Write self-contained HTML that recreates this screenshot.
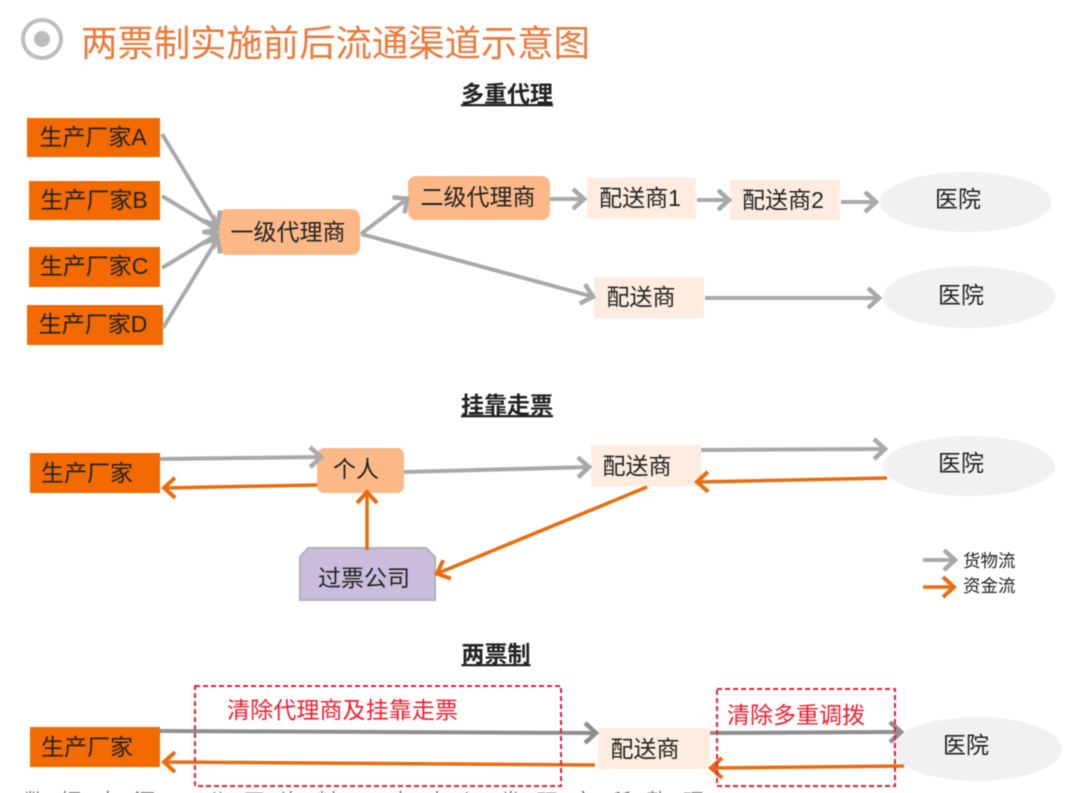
<!DOCTYPE html>
<html><head><meta charset="utf-8"><style>
html,body{margin:0;padding:0;background:#fff}
svg{display:block;filter:blur(0.45px)}
text{font-family:"Liberation Sans","Noto Sans CJK SC",sans-serif;fill:#222}
.g{stroke:#a9a9ab;stroke-width:4;fill:none}
.o{stroke:#ea6c10;stroke-width:3.5;fill:none}
.d{stroke:#8f8f91}
.n{font-size:23px;text-anchor:middle}
.h{font-size:23px;text-anchor:middle;font-weight:bold;text-decoration:underline}
.r{fill:#f01c30;font-size:23px}
</style></head><body>
<svg width="1080" height="793" viewBox="0 0 1080 793" xmlns="http://www.w3.org/2000/svg">
<defs>
<marker id="ag" markerUnits="userSpaceOnUse" markerWidth="20" markerHeight="26" refX="16" refY="13" orient="auto"><path d="M4 3L15 13L4 23" fill="none" stroke="#a9a9ab" stroke-width="4.5"/></marker>
<marker id="ad" markerUnits="userSpaceOnUse" markerWidth="20" markerHeight="26" refX="16" refY="13" orient="auto"><path d="M4 3L15 13L4 23" fill="none" stroke="#8f8f91" stroke-width="4.5"/></marker>
<marker id="ao" markerUnits="userSpaceOnUse" markerWidth="20" markerHeight="26" refX="16" refY="13" orient="auto"><path d="M4 3L15 13L4 23" fill="none" stroke="#ea6c10" stroke-width="4"/></marker>
</defs>

<circle cx="42" cy="39" r="19" fill="none" stroke="#bdbdbd" stroke-width="4"/>
<circle cx="42" cy="39" r="8" fill="#bdbdbd"/>
<text x="81" y="56" style="font-size:36.5px;fill:#ec7a3a" textLength="509">两票制实施前后流通渠道示意图</text>

<text x="507" y="102" class="h">多重代理</text>
<text x="507" y="413" class="h">挂靠走票</text>
<text x="496" y="662" class="h">两票制</text>

<!-- section 1 nodes -->
<g fill="#f26a00">
<rect x="27" y="118" width="133" height="39"/>
<rect x="29" y="181" width="131" height="39"/>
<rect x="29" y="247" width="131" height="40"/>
<rect x="27" y="305" width="136" height="40"/>
</g>
<text x="93" y="145" class="n">生产厂家A</text>
<text x="94" y="208" class="n">生产厂家B</text>
<text x="94" y="274" class="n">生产厂家C</text>
<text x="93" y="332" class="n">生产厂家D</text>
<rect x="219" y="209" width="141" height="46" rx="8" fill="#fcb987"/>
<text x="288" y="240" class="n">一级代理商</text>
<rect x="408" y="176" width="142" height="44" rx="8" fill="#fcb987"/>
<text x="478" y="205" class="n">二级代理商</text>
<rect x="587" y="178" width="109" height="41" fill="#fdecdf"/>
<text x="640" y="206" class="n">配送商1</text>
<rect x="730" y="180" width="110" height="40" fill="#fdecdf"/>
<text x="783" y="208" class="n">配送商2</text>
<rect x="594" y="277" width="110" height="41" fill="#fdecdf"/>
<text x="641" y="305" class="n">配送商</text>
<ellipse cx="966" cy="202" rx="86" ry="30" fill="#f1f1f3"/>
<text x="958" y="207" class="n">医院</text>
<ellipse cx="969" cy="297" rx="86" ry="31" fill="#f1f1f3"/>
<text x="961" y="303" class="n">医院</text>

<!-- section 2 nodes -->
<rect x="30" y="453" width="130" height="40" fill="#f26a00"/>
<text x="87" y="481" class="n">生产厂家</text>
<rect x="317" y="448" width="87" height="45" rx="7" fill="#fcb987"/>
<text x="356" y="477" class="n">个人</text>
<rect x="591" y="445" width="110" height="41" fill="#fdecdf"/>
<text x="637" y="474" class="n">配送商</text>
<ellipse cx="969" cy="466" rx="86" ry="30" fill="#f1f1f3"/>
<text x="961" y="471" class="n">医院</text>
<path d="M308 548H426L435 557V600H300V557Z" fill="#c9bcdc" stroke="#b1b1b5" stroke-width="2"/>
<text x="364" y="586" class="n">过票公司</text>
<text x="963" y="567" style="font-size:17.5px">货物流</text>
<text x="963" y="592" style="font-size:17.5px">资金流</text>

<!-- section 3 nodes -->
<ellipse cx="977" cy="749" rx="85" ry="32" fill="#f1f1f3"/>
<rect x="598" y="728" width="112" height="41" fill="#fdecdf"/>
<rect x="30" y="727" width="130" height="40" fill="#f26a00"/>
<text x="87" y="755" class="n">生产厂家</text>
<text x="645" y="757" class="n">配送商</text>
<text x="966" y="753" class="n">医院</text>

<!-- connectors on top -->
<g class="g">
<path d="M162 134L218 226" marker-end="url(#ag)"/>
<path d="M162 196L218 230" marker-end="url(#ag)"/>
<path d="M162 268L218 234" marker-end="url(#ag)"/>
<path d="M163 328L218 238" marker-end="url(#ag)"/>
<path d="M361 234L408 198" marker-end="url(#ag)"/>
<path d="M361 234L594 297" marker-end="url(#ag)"/>
<path d="M550 199L585 199" marker-end="url(#ag)"/>
<path d="M697 200L730 200" marker-end="url(#ag)"/>
<path d="M841 202L877 202" marker-end="url(#ag)"/>
<path d="M705 298L880 298" marker-end="url(#ag)"/>
</g>
<path class="g" d="M160 459L322 457" marker-end="url(#ag)"/>
<path class="o" d="M317 485L163 488" marker-end="url(#ao)"/>
<path class="g" d="M404 472L590 467" marker-end="url(#ag)"/>
<path class="g" d="M701 450L886 449" marker-end="url(#ag)"/>
<path class="o" d="M887 478L696 482" marker-end="url(#ao)"/>
<path class="o" d="M647 487L436 574" marker-end="url(#ao)"/>
<path class="o" d="M367 550L367 491" marker-end="url(#ao)"/>
<path class="g" d="M923 560L956 560" marker-end="url(#ag)"/>
<path class="o" d="M923 587L955 587" marker-end="url(#ao)"/>
<path class="g d" d="M160 731L597 733" marker-end="url(#ad)"/>
<path class="g d" d="M710 733L902 732" marker-end="url(#ad)"/>
<path class="o" d="M595 765L163 762" marker-end="url(#ao)"/>
<path class="o" d="M904 766L710 768" marker-end="url(#ao)"/>

<rect x="195" y="686" width="366" height="100" fill="none" stroke="#e2203a" stroke-width="2" stroke-dasharray="5 3"/>
<rect x="717" y="689" width="178" height="97" fill="none" stroke="#e2203a" stroke-width="2" stroke-dasharray="5 3"/>
<text x="227" y="718" class="r" textLength="231">清除代理商及挂靠走票</text>
<text x="727" y="723" class="r" textLength="138">清除多重调拨</text>
<text x="24" y="809" style="font-size:21px;fill:#555" textLength="680">数据来源：公开资料，中泰证券研究所整理</text>
</svg>
</body></html>
